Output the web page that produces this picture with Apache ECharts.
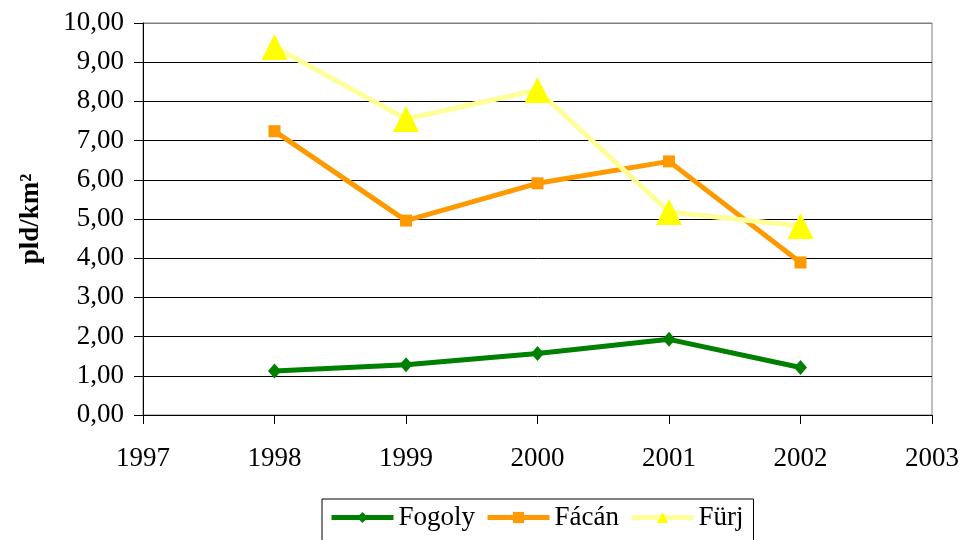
<!DOCTYPE html>
<html><head><meta charset="utf-8">
<script src="https://cdn.jsdelivr.net/npm/echarts@6/dist/echarts.min.js"></script>
<style>html,body{margin:0;padding:0;background:#fff}#c{width:965px;height:540px}</style>
</head><body><div id="c"></div>
<script>
var years = [1998, 1999, 2000, 2001, 2002];
var fogoly = [1.12, 1.28, 1.57, 1.93, 1.21];
var facan = [7.24, 4.96, 5.91, 6.47, 3.89];
var furj = [9.39, 7.55, 8.29, 5.18, 4.82];
var seriesNames = ['Fogoly', 'Fácán', 'Fürj'];

function pairs(v){ return years.map(function(y,i){ return [y, v[i]]; }); }
var font = '"Liberation Serif", "Times New Roman", serif';
var gridColors = ['#000','#000','#000','#000','#000','#000','#000','#000','#000','#000','#808080'];
var chart = echarts.init(document.getElementById('c'));
chart.setOption({
  animation: false,
  backgroundColor: '#fff',
  textStyle: { fontFamily: font },
  grid: { left: 143, right: 33, top: 23, bottom: 125, show: true, borderColor: '#808080', borderWidth: 1 },
  xAxis: {
    type: 'value', min: 1997, max: 2003, interval: 1,
    axisLine: { show: true, lineStyle: { color: '#000', width: 1 } },
    axisTick: { show: true, length: 9, lineStyle: { color: '#000' } },
    axisLabel: { color: '#000', fontSize: 27, fontFamily: font, margin: 30, formatter: function(v){ return String(v); } },
    splitLine: { show: false }
  },
  yAxis: {
    type: 'value', min: 0, max: 10, interval: 1,
    name: 'pld/km²', nameLocation: 'middle', nameRotate: 90, nameGap: 98,
    nameTextStyle: { color: '#000', fontSize: 27, fontWeight: 'bold', fontFamily: font },
    axisLine: { show: true, lineStyle: { color: '#000', width: 1 } },
    axisTick: { show: true, length: 9, lineStyle: { color: '#000' } },
    axisLabel: { color: '#000', fontSize: 27, fontFamily: font, margin: 19, formatter: function(v){ return v.toFixed(2).replace('.', ','); } },
    splitLine: { show: true, lineStyle: { color: gridColors, width: 1 } }
  },
  legend: {
    left: 322, top: 499, width: 440,
    data: seriesNames,
    borderColor: '#000', borderWidth: 1, padding: [5, 10, 10, 7],
    itemWidth: 62, itemHeight: 14, itemGap: 10,
    lineStyle: { width: 5 },
    textStyle: { color: '#000', fontSize: 27, fontFamily: font }
  },
  series: [
    { name: 'Fogoly', type: 'line', data: pairs(fogoly), symbol: 'diamond', symbolSize: [13, 15],
      lineStyle: { color: '#008000', width: 5 }, itemStyle: { color: '#008000' } },
    { name: 'Fácán', type: 'line', data: pairs(facan), symbol: 'rect', symbolSize: 12,
      lineStyle: { color: '#FF9900', width: 5 }, itemStyle: { color: '#FF9900' } },
    { name: 'Fürj', type: 'line', data: pairs(furj), symbol: 'triangle', symbolSize: [26, 26],
      lineStyle: { color: '#FFFF99', width: 5 }, itemStyle: { color: '#FFFF00' } }
  ]
});
</script></body></html>
